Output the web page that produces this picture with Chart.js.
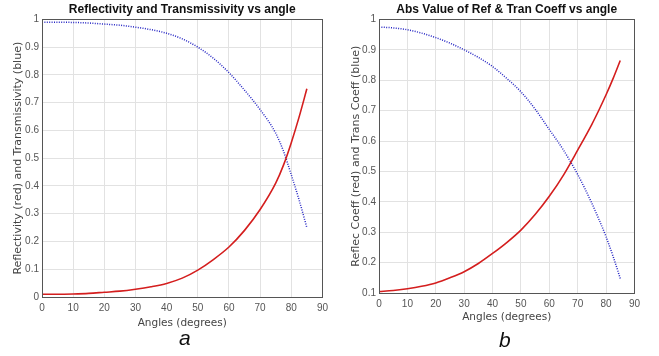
<!DOCTYPE html>
<html>
<head>
  <meta charset="UTF-8">
  <title>Reflectivity and Transmissivity</title>
  <script src="https://cdn.jsdelivr.net/npm/chart.js"></script>
  <style>
    body { margin: 0; background: #fff; font-family: "Liberation Sans", Arial, sans-serif; }
    #wrap { position: relative; width: 659px; height: 356px; }
    .box { position: absolute; top: 0; }
    .tag { position: absolute; font-style: italic; font-size: 21px; color: #111; }
  </style>
</head>
<body>
<div id="wrap">
  <div class="box" style="left:0; width:333px; height:334px;"><canvas id="chartA"></canvas></div>
  <div class="box" style="left:337px; width:308px; height:328px;"><canvas id="chartB"></canvas></div>
  <div class="tag" style="left:179px; top:326px;">a</div>
  <div class="tag" style="left:499px; top:328px;">b</div>
</div>

<script>
  const angles = [0, 5, 10, 15, 20, 25, 30, 35, 40, 45, 50, 55, 60, 65, 70, 75, 77.5, 80, 82.5, 85];

  // plot a
  const reflectivity   = [0.010, 0.010, 0.011, 0.013, 0.017, 0.021, 0.028, 0.037, 0.049, 0.068, 0.097, 0.135, 0.180, 0.240, 0.315, 0.410, 0.475, 0.556, 0.648, 0.750];
  const transmissivity = [0.990, 0.990, 0.989, 0.987, 0.983, 0.979, 0.972, 0.963, 0.950, 0.930, 0.900, 0.860, 0.808, 0.745, 0.675, 0.590, 0.525, 0.440, 0.350, 0.250];

  // plot b
  const refCoeff  = [0.105, 0.108, 0.114, 0.122, 0.133, 0.150, 0.170, 0.197, 0.230, 0.266, 0.307, 0.358, 0.418, 0.488, 0.570, 0.655, 0.702, 0.752, 0.806, 0.865];
  const tranCoeff = [0.975, 0.972, 0.966, 0.955, 0.940, 0.922, 0.900, 0.875, 0.845, 0.806, 0.762, 0.705, 0.638, 0.570, 0.490, 0.395, 0.342, 0.285, 0.220, 0.148];

  const pts = arr => angles.map((a, i) => ({ x: a, y: arr[i] }));

  const boxPlugin = {
    id: 'box',
    afterDraw(chart) {
      const a = chart.chartArea, ctx = chart.ctx;
      ctx.save();
      ctx.strokeStyle = '#555';
      ctx.lineWidth = 1;
      ctx.strokeRect(Math.round(a.left) + 0.5, Math.round(a.top) + 0.5, Math.round(a.right - a.left), Math.round(a.bottom - a.top));
      ctx.restore();
    }
  };

  function makeChart(id, title, yTitle, red, blue, yMin, xHeight, padLeft) {
    return new Chart(document.getElementById(id), {
      type: 'line',
      data: {
        datasets: [
          { data: pts(red), borderColor: '#d41e1e', borderWidth: 1.6, pointRadius: 0, fill: false, cubicInterpolationMode: 'monotone' },
          { data: pts(blue), borderColor: '#2626c4', borderWidth: 1.5, borderDash: [1, 1.4], pointRadius: 0, fill: false, cubicInterpolationMode: 'monotone' }
        ]
      },
      options: {
        responsive: true,
        maintainAspectRatio: false,
        animation: false,
        layout: { padding: { right: 3, top: 0, bottom: 0, left: padLeft } },
        plugins: {
          legend: { display: false },
          tooltip: { enabled: false },
          title: {
            display: true, text: title, color: '#111', fullSize: false,
            font: { family: 'Liberation Sans', size: 12, weight: 'bold' },
            padding: { top: 2, bottom: 3 }
          }
        },
        scales: {
          x: {
            type: 'linear', min: 0, max: 90,
            ticks: { stepSize: 10, color: '#555', font: { family: 'Liberation Sans', size: 10 }, maxRotation: 0, padding: 5 },
            grid: { color: '#e2e2e2', drawTicks: false },
            border: { color: '#555' },
            title: { display: true, text: 'Angles (degrees)', color: '#444', font: { family: 'DejaVu Sans', size: 10.5 }, padding: { top: 1, bottom: 4 } },
            afterFit: s => { s.height = xHeight; }
          },
          y: {
            min: yMin, max: 1,
            ticks: { stepSize: 0.1, color: '#555', font: { family: 'Liberation Sans', size: 10 }, padding: 3,
                     callback: v => String(+v.toFixed(1)) },
            grid: { color: '#e2e2e2', drawTicks: false },
            border: { color: '#555' },
            title: { display: true, text: yTitle, color: '#444', font: { family: 'DejaVu Sans', size: 11 }, padding: { top: 0, bottom: 0 } },
            afterFit: s => { s.width = 42 - padLeft; }
          }
        }
      },
      plugins: [boxPlugin]
    });
  }

  makeChart('chartA', 'Reflectivity and Transmissivity vs angle', 'Reflectivity (red) and Transmissivity (blue)', reflectivity, transmissivity, 0, 37, 12);
  makeChart('chartB', 'Abs Value of Ref & Tran Coeff vs angle', 'Reflec Coeff (red) and Trans Coeff (blue)', refCoeff, tranCoeff, 0.1, 35, 13);
</script>
</body>
</html>
